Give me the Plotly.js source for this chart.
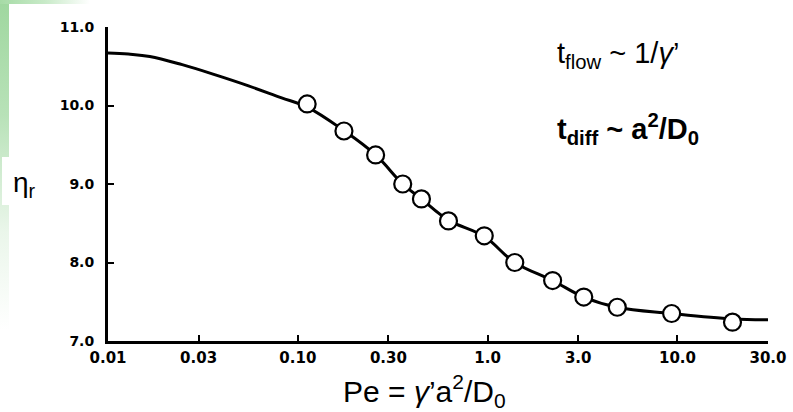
<!DOCTYPE html>
<html>
<head>
<meta charset="utf-8">
<script src="https://cdn.plot.ly/plotly-3.0.1.min.js"></script>
<style>
  html, body { margin: 0; padding: 0; background: #ffffff; }
  #wrap { position: relative; width: 793px; height: 412px; overflow: hidden; }
  .deco { position: absolute; }
  #leftStrip { left: 0; top: 0; width: 9px; height: 330px;
    background: linear-gradient(to bottom, #9fd79f 0%, #b8e2b8 35%, rgba(220,240,220,0.6) 70%, rgba(255,255,255,0) 100%); }
  #topStrip { left: 0; top: 0; width: 90px; height: 4px;
    background: linear-gradient(to right, #a6dba6 0%, #c8eac8 50%, rgba(255,255,255,0) 100%); }
  #etaBox { left: 2px; top: 157px; width: 36px; height: 48px; background: #ffffff; }
  #chart { position: absolute; left: 0; top: 0; width: 793px; height: 412px; }
</style>
</head>
<body>
<div id="wrap">
  <div class="deco" id="leftStrip"></div>
  <div class="deco" id="topStrip"></div>
  <div class="deco" id="etaBox"></div>
  <div id="chart"></div>
</div>
<script>
// Measured data points (open circles)
const pePoints  = [0.112, 0.175, 0.257, 0.357, 0.448, 0.622, 0.96, 1.39, 2.20, 3.21, 4.82, 9.32, 19.5];
const etaPoints = [10.02, 9.675, 9.37, 9.00, 8.81, 8.53, 8.34, 8.00, 7.77, 7.56, 7.43, 7.35, 7.24];

// Smooth fitted curve
const peCurve  = [0.01, 0.0128, 0.0166, 0.0246, 0.0368, 0.055, 0.0815, 0.112, 0.175, 0.257, 0.357, 0.448, 0.622, 0.96, 1.39, 2.20, 3.21, 4.82, 9.32, 19.5, 30];
const etaCurve = [10.67, 10.655, 10.625, 10.52, 10.39, 10.25, 10.10, 9.98, 9.68, 9.37, 9.00, 8.81, 8.54, 8.33, 8.00, 7.77, 7.56, 7.43, 7.35, 7.28, 7.27];

// Tick labels
const xTickVals = [0.01, 0.03, 0.1, 0.3, 1, 3, 10, 30];
const xTickText = ['0.01', '0.03', '0.10', '0.30', '1.0', '3.0', '10.0', '30.0'];
const yTickVals = [7, 8, 9, 10, 11];
const yTickText = ['7.0', '8.0', '9.0', '10.0', '11.0'];

const traces = [
  {
    x: peCurve, y: etaCurve, type: 'scatter', mode: 'lines',
    line: { color: '#000000', width: 3, shape: 'spline', smoothing: 1.1 },
    hoverinfo: 'skip'
  },
  {
    x: pePoints, y: etaPoints, type: 'scatter', mode: 'markers',
    marker: { symbol: 'circle', size: 17, color: '#ffffff', line: { color: '#000000', width: 2.2 } }
  }
];

const layout = {
  width: 793, height: 412,
  margin: { l: 108, r: 25, t: 27, b: 71 },
  paper_bgcolor: 'rgba(0,0,0,0)',
  plot_bgcolor: 'rgba(0,0,0,0)',
  showlegend: false,
  xaxis: {
    type: 'log', range: [-2, Math.log10(30)],
    tickvals: xTickVals, ticktext: xTickText.map(t => '<b>' + t + '</b>'),
    ticks: 'inside', ticklen: 6, tickwidth: 2, tickcolor: '#000000',
    showline: true, linewidth: 3, linecolor: '#000000',
    showgrid: false, zeroline: false,
    tickfont: { family: 'DejaVu Sans', size: 15, color: '#000000' },
    ticklabelstandoff: 1
  },
  yaxis: {
    range: [7, 11],
    tickvals: yTickVals, ticktext: yTickText.map(t => '<b>' + t + '</b>'),
    ticks: 'inside', ticklen: 6, tickwidth: 2, tickcolor: '#000000',
    showline: true, linewidth: 3, linecolor: '#000000',
    showgrid: false, zeroline: false,
    tickfont: { family: 'DejaVu Sans', size: 14, color: '#000000' },
    ticklabelstandoff: 8
  },
  annotations: [
    {
      xref: 'paper', yref: 'paper', x: 0.677, y: 0.91, xanchor: 'left', yanchor: 'middle',
      text: 't<sub>flow</sub> ~ 1/<i>γ</i>’', showarrow: false,
      font: { family: 'Liberation Sans', size: 29, color: '#000000' }
    },
    {
      xref: 'paper', yref: 'paper', x: 0.677, y: 0.675, xanchor: 'left', yanchor: 'middle',
      text: '<b>t<sub>diff</sub> ~ a<sup>2</sup>/D<sub>0</sub></b>', showarrow: false,
      font: { family: 'Liberation Sans', size: 29, color: '#000000' }
    },
    {
      xref: 'paper', yref: 'paper', x: 0.48, y: -0.158, xanchor: 'center', yanchor: 'middle',
      text: 'Pe = <i>γ</i>’a<sup>2</sup>/D<sub>0</sub>', showarrow: false,
      font: { family: 'Liberation Sans', size: 30, color: '#000000' }
    },
    {
      xref: 'paper', yref: 'paper', x: -0.127, y: 0.497, xanchor: 'center', yanchor: 'middle',
      text: 'η<sub>r</sub>', showarrow: false,
      font: { family: 'Liberation Sans', size: 28, color: '#000000' }
    }
  ]
};

Plotly.newPlot('chart', traces, layout, { displayModeBar: false });
</script>
</body>
</html>
